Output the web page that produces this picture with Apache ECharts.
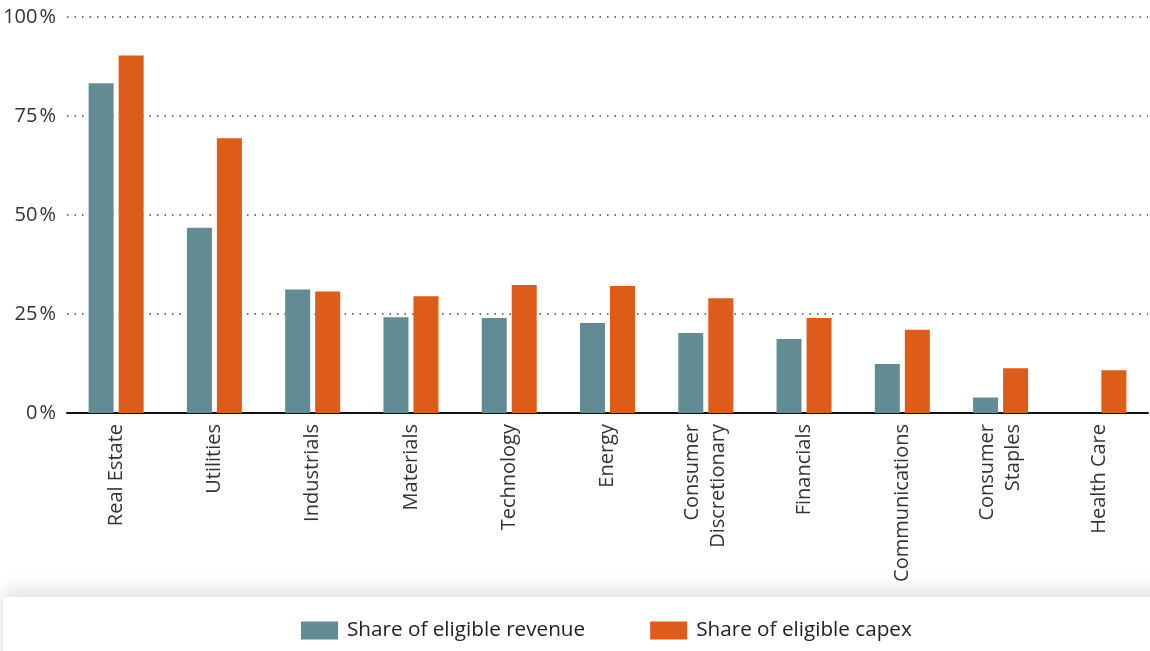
<!DOCTYPE html>
<html><head><meta charset="utf-8">
<script src="https://cdn.jsdelivr.net/npm/echarts@6/dist/echarts.min.js"></script>
<style>html,body{margin:0;padding:0;background:#fff}#c{width:1150px;height:651px}</style>
</head><body><div id="c"></div>
<script>
const categories = ["Real Estate","Utilities","Industrials","Materials","Technology","Energy","Consumer\nDiscretionary","Financials","Communications","Consumer\nStaples","Health Care"];
const revenueShare = [83.3,46.8,31.2,24.2,24.0,22.7,20.2,18.7,12.4,3.9,0];
const capexShare = [90.3,69.4,30.7,29.5,32.3,32.1,29.0,24.0,21.0,11.3,10.8];
const seriesNames = ["Share of eligible revenue","Share of eligible capex"];
const yTicks = [0,25,50,75,100];

const chart = echarts.init(document.getElementById('c'));
const font = "'Open Sans', sans-serif";
chart.setOption({
  animation:false,
  textStyle:{fontFamily:font},
  grid:{left:67,right:2,top:17,bottom:238},
  graphic:[{type:'rect',left:3,top:597,shape:{width:1160,height:70},z:-1,
    style:{fill:'#fff',shadowBlur:20,shadowColor:'rgba(0,0,0,0.16)',shadowOffsetY:-4}}],
  legend:{left:301,top:620,padding:0,itemWidth:37,itemHeight:18,itemGap:65,icon:'rect',
    textStyle:{fontSize:20.7,color:'#222',fontFamily:font,padding:[0,0,0,4]},data:seriesNames},
  xAxis:{type:'category',data:categories,
    axisLine:{lineStyle:{color:'#111',width:2}},axisTick:{show:false},
    axisLabel:{rotate:90,fontSize:20,color:'#333',margin:11,lineHeight:26,fontFamily:font,interval:0}},
  yAxis:{type:'value',min:0,max:100,interval:25,
    axisLine:{show:false},axisTick:{show:false},
    axisLabel:{fontSize:20,color:'#333',margin:11,fontFamily:font,
      formatter:v=>yTicks.includes(v)?v+'\u200a%':''},
    splitLine:{lineStyle:{color:'#444',width:1.5,type:[1.5,6]}}},
  series:[
    {name:seriesNames[0],type:'bar',data:revenueShare,barWidth:25,barGap:'20%',
      itemStyle:{color:'#628b94'}},
    {name:seriesNames[1],type:'bar',data:capexShare,barWidth:25,barGap:'20%',
      itemStyle:{color:'#de5c19'}}
  ]
});
</script></body></html>
